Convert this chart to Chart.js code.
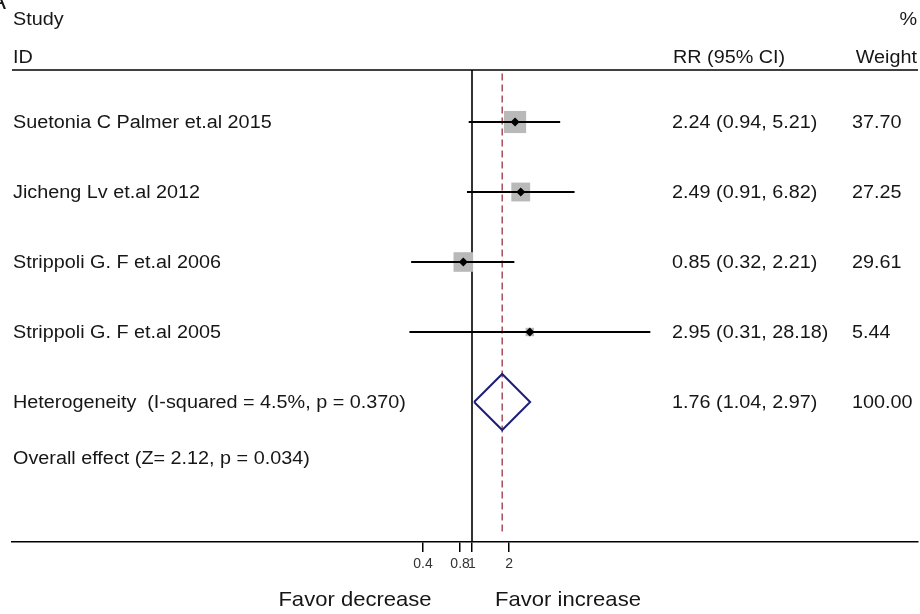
<!DOCTYPE html>
<html>
<head>
<meta charset="utf-8">
<script src="https://cdn.jsdelivr.net/npm/chart.js@4/dist/chart.umd.min.js"></script>
<style>
  html, body { margin: 0; padding: 0; background: #fff; }
  canvas { display: block; }
</style>
</head>
<body>
<canvas id="c" width="920" height="614"></canvas>
<script>
// ---------- data ----------
const studies = ["Suetonia C Palmer et.al 2015", "Jicheng Lv et.al 2012", "Strippoli G. F et.al 2006", "Strippoli G. F et.al 2005"];
const rr = [2.24, 2.49, 0.85, 2.95];
const ciLow = [0.94, 0.91, 0.32, 0.31];
const ciHigh = [5.21, 6.82, 2.21, 28.18];
const weights = [37.70, 27.25, 29.61, 5.44];
const overallRR = 1.76;
const overallLow = 1.04;
const overallHigh = 2.97;
const overallWeight = 100.00;
const heterogeneityLabel = "Heterogeneity  (I-squared = 4.5%, p = 0.370)";
const overallEffectLabel = "Overall effect (Z= 2.12, p = 0.034)";
const tickValues = [0.4, 0.8, 1, 2];
const headerLabels = { study: "Study", id: "ID", rr: "RR (95% CI)", pct: "%", weight: "Weight" };
const sideLabels = ["Favor decrease", "Favor increase"];

// ---------- layout ----------
const FONT = '"Liberation Sans", Arial, Helvetica, sans-serif';
const TEXT = '#161616';
const ROW_TOP = -0.743, ROW_BOTTOM = 6;
const overallRow = studies.length;
const fmt = v => v.toFixed(2);

const datasets = [];
// centre dots (top)
datasets.push({
  data: rr.map((v, i) => ({ x: v, y: i })),
  pointStyle: 'rectRot', pointRadius: 4.5, pointBackgroundColor: '#000', pointBorderColor: '#000', pointBorderWidth: 0,
  showLine: false, order: 0
});
// CI lines
ciLow.forEach((lo, i) => {
  datasets.push({
    data: [{ x: lo, y: i }, { x: ciHigh[i], y: i }],
    showLine: true, borderColor: '#000', borderWidth: 2, pointRadius: 0, order: 1
  });
});
// weight boxes
datasets.push({
  data: rr.map((v, i) => ({ x: v, y: i })),
  pointStyle: 'rect',
  pointRadius: ctx => 2.55 * Math.sqrt(weights[ctx.dataIndex] || 0),
  pointBackgroundColor: '#b9b9b9', pointBorderWidth: 0, showLine: false, order: 2
});
// overall diamond
const dh = 0.4;
datasets.push({
  data: [
    { x: overallLow, y: overallRow }, { x: overallRR, y: overallRow - dh },
    { x: overallHigh, y: overallRow }, { x: overallRR, y: overallRow + dh },
    { x: overallLow, y: overallRow }
  ],
  showLine: true, borderColor: '#1e1e78', borderWidth: 2, pointRadius: 0, fill: false, order: 1
});
// null line at 1
datasets.push({
  data: [{ x: 1, y: ROW_TOP }, { x: 1, y: ROW_BOTTOM }],
  showLine: true, borderColor: '#000', borderWidth: 1.6, pointRadius: 0, order: 3
});
// overall estimate dashed line
datasets.push({
  data: [{ x: overallRR, y: ROW_TOP + 0.05 }, { x: overallRR, y: ROW_BOTTOM - 0.1 }],
  showLine: true, borderColor: '#a3414f', borderWidth: 1.4, borderDash: [7, 4], pointRadius: 0, order: 4
});

function drawText(ctx, txt, x, y, size, align, sx, weight) {
  ctx.save();
  ctx.font = (weight || 'normal') + ' ' + size + 'px ' + FONT;
  ctx.fillStyle = TEXT;
  ctx.textBaseline = 'alphabetic';
  ctx.textAlign = align;
  ctx.translate(x, y);
  ctx.scale(sx, 1);
  ctx.fillText(txt, 0, 0);
  ctx.restore();
}

const tablePlugin = {
  id: 'table',
  beforeDraw(chart) {
    const c = chart.ctx;
    c.save(); c.fillStyle = '#fff'; c.fillRect(0, 0, chart.width, chart.height); c.restore();
  },
  afterDraw(chart) {
    const c = chart.ctx;
    const ya = chart.scales.y;
    const area = chart.chartArea;
    const SX = 1.1, FS = 18;
    // header line
    c.save();
    c.strokeStyle = '#000'; c.lineWidth = 1.5;
    c.beginPath(); c.moveTo(area.left, area.top); c.lineTo(area.right, area.top); c.stroke();
    c.restore();
    // panel letter (cropped)
    drawText(c, 'A', -10, 9, 24, 'left', 1, 'normal');
    // headers
    drawText(c, headerLabels.study, 13, 25, FS, 'left', SX);
    drawText(c, headerLabels.id, 13, 63, FS, 'left', SX);
    drawText(c, headerLabels.pct, 917, 25, FS, 'right', SX);
    drawText(c, headerLabels.rr, 673, 63, FS, 'left', SX);
    drawText(c, headerLabels.weight, 917, 63, FS, 'right', SX);
    // rows
    studies.forEach((s, i) => {
      const y = ya.getPixelForValue(i) + 5.5;
      drawText(c, s, 13, y, FS, 'left', SX);
      drawText(c, fmt(rr[i]) + ' (' + fmt(ciLow[i]) + ', ' + fmt(ciHigh[i]) + ')', 672, y, FS, 'left', SX);
      drawText(c, fmt(weights[i]), 852, y, FS, 'left', SX);
    });
    const yo = ya.getPixelForValue(overallRow) + 5.5;
    drawText(c, heterogeneityLabel, 13, yo, FS, 'left', SX);
    drawText(c, fmt(overallRR) + ' (' + fmt(overallLow) + ', ' + fmt(overallHigh) + ')', 672, yo, FS, 'left', SX);
    drawText(c, fmt(overallWeight), 852, yo, FS, 'left', SX);
    drawText(c, overallEffectLabel, 13, yo + 56, FS, 'left', SX);
    // favor labels
    drawText(c, sideLabels[0], 355, 606, 21, 'center', 1.05);
    drawText(c, sideLabels[1], 568, 606, 21, 'center', 1.05);
  }
};

// x scale: 1 at x=472, ~123 px per decade, spanning 12..918
const PX_DEC = 123, X_ONE = 472, X_L = 12, X_R = 918;
const xMin = Math.pow(10, -(X_ONE - X_L) / PX_DEC);
const xMax = Math.pow(10, (X_R - X_ONE) / PX_DEC);

new Chart(document.getElementById('c'), {
  type: 'scatter',
  data: { datasets },
  options: {
    responsive: false,
    animation: false,
    events: [],
    layout: { autoPadding: false, padding: { top: 70, left: X_L, right: 920 - X_R, bottom: 0 } },
    plugins: { legend: { display: false }, tooltip: { enabled: false } },
    scales: {
      x: {
        type: 'logarithmic',
        min: xMin, max: xMax,
        bounds: 'data',
        afterBuildTicks: s => { s.ticks = tickValues.map(v => ({ value: v })); },
        afterFit: s => { s.height = 72; s.paddingLeft = 0; s.paddingRight = 0; },
        border: { display: true, color: '#000', width: 1.5 },
        grid: { display: true, drawOnChartArea: false, drawTicks: true, tickLength: 10, color: '#000', lineWidth: 1.5 },
        ticks: {
          autoSkip: false, maxRotation: 0, minRotation: 0, padding: 4,
          color: '#333', font: { family: FONT, size: 14 },
          callback: v => String(v)
        }
      },
      y: {
        type: 'linear', display: false, reverse: true,
        min: ROW_TOP, max: ROW_BOTTOM
      }
    }
  },
  plugins: [tablePlugin]
});
</script>
</body>
</html>
